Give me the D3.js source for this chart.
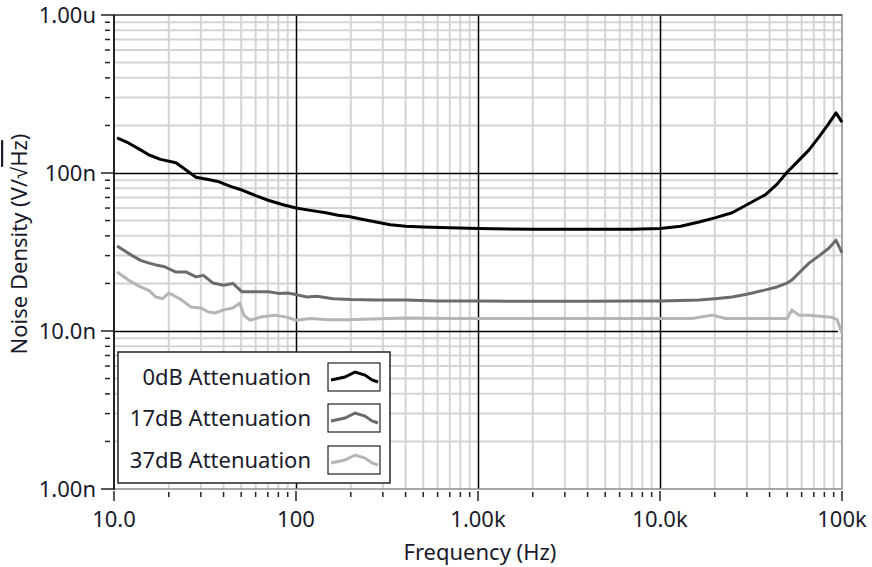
<!DOCTYPE html>
<html>
<head>
<meta charset="utf-8">
<style>
  body { margin:0; background:#fff; }
  text { font-family: "Noto Sans", sans-serif; fill:#1a1a2a; }
</style>
</head>
<body>
<div id="chart"></div>
<script src="https://d3js.org/d3.v7.min.js"></script>
<script>
// frequencies in Hz, noise in nV/sqrt(Hz)
var freq0 = [10.4, 12, 14, 15.6, 18, 21.9, 25, 28.2, 33, 37.8, 44, 50.5, 60, 71, 85, 100, 120, 146, 170, 195, 230, 275, 330, 401, 500, 700, 1000, 2000, 4000, 7000, 10000, 13000, 16400, 20000, 24900, 30000, 38000, 44000, 49900, 57000, 65900, 75000, 84900, 92700, 100000];
var noise0 = [167, 155, 140, 130, 122, 116, 104, 94, 91, 88, 82, 78, 72, 67, 63, 60, 58, 56, 54, 53, 51, 49, 47, 46, 45.5, 45, 44.5, 44, 44, 44, 44.5, 46, 49, 52, 56, 63, 73, 85, 101, 118, 140, 170, 207, 240, 210];

var freq17 = [10.4, 12, 14, 15.6, 17, 19, 21.9, 25, 28.2, 31, 35, 40, 45, 50.5, 60, 71, 80, 90, 100, 115, 130, 160, 200, 275, 401, 600, 1000, 2000, 4000, 7000, 10000, 13000, 16400, 20000, 24900, 30000, 38000, 44000, 49900, 53000, 58000, 65900, 75000, 84900, 92700, 100000];
var noise17 = [34.5, 31, 28, 26.9, 26.2, 25.5, 23.6, 23.6, 22, 22.5, 20.1, 19.5, 20, 17.7, 17.7, 17.7, 17.3, 17.4, 17, 16.4, 16.6, 16, 15.8, 15.7, 15.7, 15.5, 15.5, 15.4, 15.4, 15.5, 15.5, 15.6, 15.7, 16, 16.4, 17.1, 18.2, 19, 20.1, 21, 23.3, 26.9, 30, 33.5, 37.6, 31.2];

var freq37 = [10.4, 12, 14, 15.6, 17, 18.5, 20, 23, 26.5, 30, 33, 36, 40, 45, 49, 52, 56, 65, 77, 90, 100, 120, 150, 195, 260, 401, 700, 1000, 2000, 5000, 10000, 15000, 19300, 23000, 30000, 40000, 50000, 53000, 58000, 65900, 75000, 88000, 94000, 100000];
var noise37 = [23.6, 21, 19, 18, 16.4, 16, 17.4, 16, 14.2, 14, 13.2, 13, 13.6, 14, 15, 12.5, 11.7, 12.3, 12.6, 12.2, 11.7, 12, 11.8, 11.8, 11.9, 12.1, 12, 12, 12, 12, 12, 12, 12.6, 12, 12, 12, 12, 13.6, 12.6, 12.6, 12.4, 12.2, 11.8, 9.7];

var seriesNames = ["0dB Attenuation", "17dB Attenuation", "37dB Attenuation"];
var seriesColors = ["#000000", "#6b6b6b", "#b5b5b5"];

var yTickVals = [1e-6, 1e-7, 1e-8, 1e-9];
var yTickLabels = ["1.00u", "100n", "10.0n", "1.00n"];
var xTickVals = [10, 100, 1000, 10000, 100000];
var xTickLabels = ["10.0", "100", "1.00k", "10.0k", "100k"];

var W = 872, H = 567;
var pLeft = 114, pRight = 842, pTop = 15, pBottom = 489;
var fs = "22px";

var svg = d3.select("#chart").append("svg")
  .attr("width", W).attr("height", H);

var x = d3.scaleLog().domain([10, 100000]).range([pLeft, pRight]);
var y = d3.scaleLog().domain([1e-9, 1e-6]).range([pBottom, pTop]);
var px = v => Math.round(v) + 0.5;

// minor values
var xMinor = [], yMinor = [];
for (var d = 10; d < 100000; d *= 10)
  for (var k = 2; k <= 9; k++) xMinor.push(d * k);
for (var e = 1e-9; e < 1e-6 * 0.99; e *= 10)
  for (var k2 = 2; k2 <= 9; k2++) yMinor.push(e * k2);

var grid = svg.append("g");
grid.selectAll(".vx").data(xMinor).enter().append("line")
  .attr("x1", d => x(d)).attr("x2", d => x(d))
  .attr("y1", pTop).attr("y2", pBottom)
  .attr("stroke", "#d4d4d4").attr("stroke-width", 2);
grid.selectAll(".hy").data(yMinor).enter().append("line")
  .attr("x1", pLeft).attr("x2", pRight)
  .attr("y1", d => y(d)).attr("y2", d => y(d))
  .attr("stroke", "#d4d4d4").attr("stroke-width", 2);
grid.selectAll(".vmaj").data(xTickVals.slice(1, 4)).enter().append("line")
  .attr("x1", d => px(x(d))).attr("x2", d => px(x(d)))
  .attr("y1", pTop).attr("y2", pBottom)
  .attr("stroke", "#000").attr("stroke-width", 1.5);
grid.selectAll(".hmaj").data(yTickVals.slice(1, 3)).enter().append("line")
  .attr("x1", pLeft).attr("x2", pRight - 4)
  .attr("y1", d => px(y(d))).attr("y2", d => px(y(d)))
  .attr("stroke", "#000").attr("stroke-width", 1.5);

// frame
svg.append("rect")
  .attr("x", pLeft).attr("y", pTop)
  .attr("width", pRight - pLeft).attr("height", pBottom - pTop)
  .attr("fill", "none").attr("stroke", "#8a8a8a").attr("stroke-width", 1.5);
svg.append("line").attr("x1", pLeft).attr("x2", pRight).attr("y1", pTop).attr("y2", pTop)
  .attr("stroke", "#444").attr("stroke-width", 1.5);
svg.append("line").attr("x1", pLeft).attr("x2", pLeft).attr("y1", pTop).attr("y2", pBottom + 1)
  .attr("stroke", "#222").attr("stroke-width", 2);

// series
var allSeries = [
  freq0.map((f, i) => [f, noise0[i]]),
  freq17.map((f, i) => [f, noise17[i]]),
  freq37.map((f, i) => [f, noise37[i]])
];
var line = d3.line().x(d => x(d[0])).y(d => y(d[1] * 1e-9));
var plot = svg.append("g");
[2, 1, 0].forEach(function(i) {
  plot.append("path").datum(allSeries[i])
    .attr("fill", "none").attr("stroke", seriesColors[i])
    .attr("stroke-width", 3).attr("stroke-linejoin", "round")
    .attr("d", line);
});

// y axis ticks
var yAxis = svg.append("g");
yAxis.selectAll(".ymin").data(yMinor).enter().append("line")
  .attr("x1", pLeft - 9).attr("x2", pLeft - 4)
  .attr("y1", d => y(d)).attr("y2", d => y(d))
  .attr("stroke", "#222").attr("stroke-width", 1.5);
yAxis.selectAll(".ymaj").data(yTickVals).enter().append("line")
  .attr("x1", pLeft - 13).attr("x2", pLeft)
  .attr("y1", d => y(d)).attr("y2", d => y(d))
  .attr("stroke", "#222").attr("stroke-width", 1.5);
yAxis.selectAll(".ylab").data(yTickVals).enter().append("text")
  .attr("x", pLeft - 18).attr("y", d => y(d))
  .attr("dy", "0.36em").attr("text-anchor", "end")
  .style("font-size", fs)
  .text((d, i) => yTickLabels[i]);

// x axis ticks
var xAxis = svg.append("g");
xAxis.selectAll(".xmin").data(xMinor).enter().append("line")
  .attr("x1", d => x(d)).attr("x2", d => x(d))
  .attr("y1", pBottom + 3).attr("y2", pBottom + 8)
  .attr("stroke", "#222").attr("stroke-width", 1.5);
xAxis.selectAll(".xmaj").data(xTickVals).enter().append("line")
  .attr("x1", d => x(d)).attr("x2", d => x(d))
  .attr("y1", pBottom + 2).attr("y2", pBottom + 12)
  .attr("stroke", "#222").attr("stroke-width", 1.5);
xAxis.selectAll(".xlab").data(xTickVals).enter().append("text")
  .attr("x", d => x(d)).attr("y", pBottom + 38)
  .attr("text-anchor", "middle")
  .style("font-size", fs)
  .text((d, i) => xTickLabels[i]);

svg.append("text")
  .attr("x", (pLeft + pRight) / 2 + 2).attr("y", 560)
  .attr("text-anchor", "middle").style("font-size", fs)
  .text("Frequency (Hz)");

var yt = svg.append("text")
  .attr("transform", "translate(27," + ((pTop + pBottom) / 2 - 8) + ") rotate(-90)")
  .attr("text-anchor", "middle").style("font-size", fs);
yt.append("tspan").text("Noise Density (V/\u221A");
yt.append("tspan").style("text-decoration", "overline").text("Hz");
yt.append("tspan").text(")");

// legend
var lg = svg.append("g");
lg.append("rect").attr("x", 118).attr("y", 352).attr("width", 272).attr("height", 131)
  .attr("fill", "#fff").attr("stroke", "#222").attr("stroke-width", 1.5);
var rowY = [377, 418, 460];
seriesNames.forEach(function(n, i) {
  lg.append("text").attr("x", 311).attr("y", rowY[i]).attr("dy", "0.36em")
    .attr("text-anchor", "end").style("font-size", fs).text(n);
  lg.append("rect").attr("x", 328).attr("y", rowY[i] - 14).attr("width", 52).attr("height", 28)
    .attr("fill", "#fff").attr("stroke", "#222").attr("stroke-width", 1.2);
  var sw = [[331, 3], [345, 0], [355, -5], [365, -2], [372, 3], [378, 5]];
  lg.append("path").datum(sw)
    .attr("d", d3.line().x(p => p[0]).y(p => rowY[i] + p[1]))
    .attr("fill", "none").attr("stroke", seriesColors[i]).attr("stroke-width", 3);
});
</script>
</body>
</html>
